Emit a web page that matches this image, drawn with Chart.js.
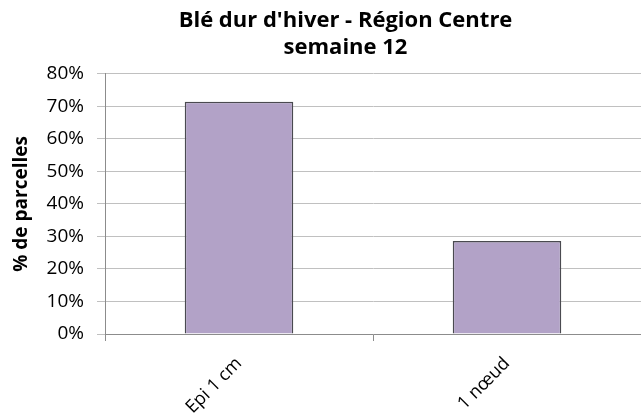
<!DOCTYPE html>
<html>
<head>
<meta charset="utf-8">
<script src="https://cdn.jsdelivr.net/npm/chart.js@4/dist/chart.umd.min.js"></script>
<style>
  html, body { margin: 0; padding: 0; background: #fff; }
  #wrap { width: 641px; height: 414px; }
</style>
</head>
<body>
<div id="wrap"><canvas id="canvas"></canvas></div>
<script>
'use strict';
const stages = ['Epi 1 cm', '1 nœud'];
const parcelles = [71.4, 28.6];
const titleLines = ['Blé dur d\'hiver - Région Centre', 'semaine 12'];
const yTitle = '% de parcelles';

const font = '"Open Sans", Lato, sans-serif';

// excel centres the title a bit right of the canvas middle
const titleShift = {
  id: 'titleShift',
  beforeDraw(chart) {
    if (chart.titleBlock) {
      chart.titleBlock.left = 46;
    }
  }
};

const ctx = document.getElementById('canvas').getContext('2d');
const chart = new Chart(ctx, {
  type: 'bar',
  data: {
    labels: stages,
    datasets: [{
      data: parcelles,
      backgroundColor: '#b2a2c7',
      borderColor: '#4a4a50',
      borderWidth: 1.5,
      barPercentage: 0.405,
      categoryPercentage: 1
    }]
  },
  options: {
    responsive: true,
    maintainAspectRatio: false,
    animation: false,
    layout: { padding: { left: 0, right: -4, top: 0, bottom: 0 } },
    plugins: {
      legend: { display: false },
      tooltip: { enabled: false },
      title: {
        display: true,
        text: titleLines,
        color: '#000',
        font: { family: font, size: 22, weight: 'bold', lineHeight: 1.2 },
        padding: { top: 8, bottom: 13 }
      }
    },
    scales: {
      x: {
        grid: { drawOnChartArea: false, drawTicks: true, tickLength: 7, color: '#8c8c8c', offset: true },
        border: { color: '#8c8c8c' },
        ticks: {
          color: '#000',
          font: { family: font, size: 18 },
          minRotation: 45,
          maxRotation: 45,
          padding: 12
        },
        afterFit: (scale) => { scale.height = 80; }
      },
      y: {
        min: 0,
        max: 80,
        ticks: {
          stepSize: 10,
          color: '#000',
          font: { family: font, size: 19 },
          padding: 13,
          callback: (v) => v + '%'
        },
        grid: { color: '#c0c0c0', tickLength: 8 },
        border: { color: '#8c8c8c' },
        title: {
          display: true,
          text: yTitle,
          color: '#000',
          font: { family: font, size: 19, weight: 'bold' },
          padding: { top: 10, bottom: 2 }
        },
        afterFit: (scale) => { scale.width = 105; }
      }
    }
  },
  plugins: [titleShift]
});
</script>
</body>
</html>
